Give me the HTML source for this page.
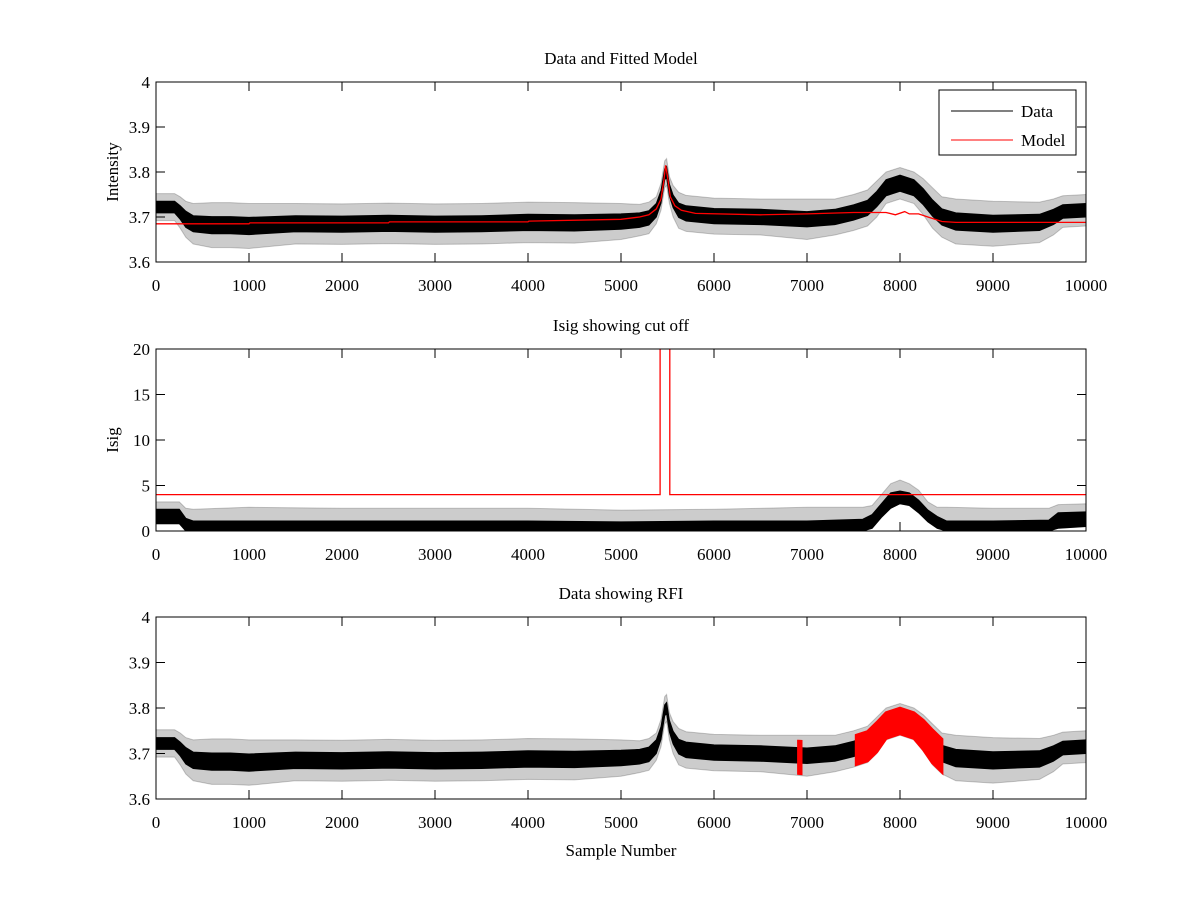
<!DOCTYPE html>
<html><head><meta charset="utf-8">
<style>
html,body{margin:0;padding:0;background:#fff;}
svg{display:block;font-family:"Liberation Serif",serif;}
</style></head>
<body>
<svg id="fig" width="1200" height="900" viewBox="0 0 1200 900" xmlns="http://www.w3.org/2000/svg">
<rect x="0" y="0" width="1200" height="900" fill="#fff"/>
</svg>
<script>
// ---- shared x-axis ----
const xTicks = [0,1000,2000,3000,4000,5000,6000,7000,8000,9000,10000];
// ---- intensity data envelope ----
const dataX    = [0,100,200,260,320,400,600,800,1000,1500,2000,2500,3000,3500,4000,4500,5000,5200,5300,5380,5430,5470,5490,5520,5560,5620,5700,6000,6500,7000,7300,7500,7650,7750,7850,8000,8150,8250,8350,8450,8600,9000,9500,9650,9750,10000];
const dataMid  = [3.722,3.722,3.722,3.71,3.695,3.685,3.682,3.682,3.68,3.685,3.684,3.686,3.684,3.685,3.688,3.687,3.69,3.693,3.698,3.715,3.745,3.795,3.8,3.76,3.735,3.715,3.708,3.702,3.70,3.695,3.70,3.71,3.72,3.74,3.765,3.775,3.765,3.745,3.72,3.70,3.69,3.685,3.688,3.70,3.712,3.715];
const coreHalf = [0.013,0.013,0.013,0.015,0.018,0.018,0.019,0.019,0.019,0.018,0.018,0.018,0.018,0.018,0.018,0.018,0.017,0.016,0.016,0.015,0.014,0.012,0.012,0.013,0.014,0.016,0.017,0.017,0.017,0.017,0.017,0.017,0.017,0.017,0.018,0.018,0.018,0.018,0.018,0.018,0.019,0.019,0.018,0.017,0.015,0.015];
const spikeHalf= [0.03,0.03,0.03,0.035,0.04,0.045,0.05,0.05,0.05,0.045,0.045,0.045,0.045,0.045,0.045,0.045,0.04,0.035,0.035,0.03,0.03,0.03,0.03,0.03,0.035,0.04,0.04,0.04,0.04,0.045,0.04,0.04,0.04,0.04,0.035,0.035,0.035,0.04,0.045,0.045,0.05,0.05,0.045,0.04,0.035,0.035];
// ---- fitted model ----
const modelX = [0,1000,1010,2500,2510,4000,4010,5000,5200,5300,5380,5430,5460,5480,5500,5530,5580,5650,5800,6500,7000,7500,7850,7950,8050,8100,8200,8300,8450,8600,10000];
const modelY = [3.685,3.685,3.687,3.687,3.689,3.689,3.691,3.695,3.70,3.705,3.718,3.74,3.78,3.815,3.79,3.745,3.725,3.715,3.708,3.705,3.707,3.71,3.71,3.705,3.712,3.707,3.707,3.70,3.69,3.688,3.688];
// ---- Isig envelope ----
const isigX     = [0,250,320,400,1000,2000,3000,4000,5000,6000,7000,7600,7700,7800,7900,8000,8100,8200,8300,8400,8500,9000,9600,9700,10000];
const isigLow   = [0.8,0.8,0,0,0,0,0,0,0,0,0,0,0.3,1.5,2.5,3.0,2.8,2.0,1.0,0.3,0,0,0,0.3,0.5];
const isigCore  = [2.4,2.4,1.4,1.1,1.1,1.1,1.1,1.1,1.0,1.1,1.1,1.3,1.8,3.0,4.2,4.4,4.2,3.4,2.3,1.6,1.1,1.1,1.2,2.0,2.1];
const isigSpike = [3.2,3.2,2.5,2.4,2.6,2.5,2.5,2.5,2.3,2.4,2.6,2.6,2.8,4.0,5.2,5.6,5.2,4.5,3.2,2.6,2.6,2.5,2.5,2.9,3.0];
// ---- cut off threshold ----
const cutX = [0,5420,5420,5525,5525,10000];
const cutY = [4,4,25,25,4,4];
// ---- flagged RFI ranges ----
const rfiRanges = [[6910,6935],[7530,8450]];

const NS='http://www.w3.org/2000/svg';
const svg=document.getElementById('fig');
function mk(tag,attrs,parent){const e=document.createElementNS(NS,tag);for(const k in attrs)e.setAttribute(k,attrs[k]);(parent||svg).appendChild(e);return e;}
const L=156,R=1086;
function sx(v){return L+(v)/10000*(R-L);}

function makePanel(top,bottom,ymin,ymax,yTicks,yLabels,title,ylabel,name){
  const g=mk('g',{});
  
  
  const sy=v=>bottom-(v-ymin)/(ymax-ymin)*(bottom-top);
  const clipId='clip-'+name;
  const cp=mk('clipPath',{id:clipId},g);
  mk('rect',{x:L,y:top,width:R-L,height:bottom-top},cp);
  const plot=mk('g',{'clip-path':'url(#'+clipId+')'},g);
  
  
  const fr=mk('rect',{x:L,y:top,width:R-L,height:bottom-top,fill:'none',stroke:'#000','stroke-width':1},g);
  
  
  const tl=9;
  xTicks.forEach(t=>{
    const x=sx(t);
    mk('line',{x1:x,y1:bottom,x2:x,y2:bottom-tl,stroke:'#000'},g);
    mk('line',{x1:x,y1:top,x2:x,y2:top+tl,stroke:'#000'},g);
    const tx=mk('text',{x:x,y:bottom+29,'text-anchor':'middle','font-size':17},g);
    tx.textContent=String(t);
    
    
  });
  yTicks.forEach((t,i)=>{
    const y=sy(t);
    mk('line',{x1:L,y1:y,x2:L+tl,y2:y,stroke:'#000'},g);
    mk('line',{x1:R,y1:y,x2:R-tl,y2:y,stroke:'#000'},g);
    const tx=mk('text',{x:L-6,y:y+6,'text-anchor':'end','font-size':17},g);
    tx.textContent=yLabels[i];
    
    
  });
  const tt=mk('text',{x:(L+R)/2,y:top-18,'text-anchor':'middle','font-size':17},g);
  tt.textContent=title;
  
  
  const yl=mk('text',{x:0,y:0,'text-anchor':'middle','font-size':17,transform:'translate('+(L-38)+','+((top+bottom)/2)+') rotate(-90)'},g);
  yl.textContent=ylabel;
  
  
  return {plot,sy};
}
function band(parent,xs,lo,hi,sy,fill,op,name){
  let d='M'+xs.map((x,i)=>sx(x).toFixed(1)+','+sy(hi[i]).toFixed(1)).join('L');
  for(let i=xs.length-1;i>=0;i--)d+='L'+sx(xs[i]).toFixed(1)+','+sy(lo[i]).toFixed(1);
  const p=mk('path',{d:d+'Z',fill:fill,'fill-opacity':op,stroke:fill,'stroke-opacity':op,'stroke-width':1},parent);
  
  
  return p;
}
function line(parent,xs,ys,sy,color,name){
  const d='M'+xs.map((x,i)=>sx(x).toFixed(1)+','+sy(ys[i]).toFixed(1)).join('L');
  const p=mk('path',{d:d,fill:'none',stroke:color,'stroke-width':1.3},parent);
  
  
}
const lo1=dataMid.map((m,i)=>m-coreHalf[i]), hi1=dataMid.map((m,i)=>m+coreHalf[i]);
const lo2=dataMid.map((m,i)=>m-spikeHalf[i]), hi2=dataMid.map((m,i)=>m+spikeHalf[i]);

// Panel 1
const p1=makePanel(82,262,3.6,4,[3.6,3.7,3.8,3.9,4],['3.6','3.7','3.8','3.9','4'],'Data and Fitted Model','Intensity','top-panel');
band(p1.plot,dataX,lo2,hi2,p1.sy,'#000',0.2,'data-spikes');
band(p1.plot,dataX,lo1,hi1,p1.sy,'#000',1,'data-series');
line(p1.plot,modelX,modelY,p1.sy,'#f00','model-series');
const lg=mk('g',{});


mk('rect',{x:939,y:90,width:137,height:65,fill:'#fff',stroke:'#000'},lg);
mk('line',{x1:951,y1:111,x2:1013,y2:111,stroke:'#000'},lg);
mk('line',{x1:951,y1:140,x2:1013,y2:140,stroke:'#f00'},lg);
const t1=mk('text',{x:1021,y:117,'font-size':17},lg);t1.textContent='Data';


const t2=mk('text',{x:1021,y:146,'font-size':17},lg);t2.textContent='Model';



// Panel 2
const p2=makePanel(349,531,0,20,[0,5,10,15,20],['0','5','10','15','20'],'Isig showing cut off','Isig','middle-panel');
band(p2.plot,isigX,isigLow,isigSpike,p2.sy,'#000',0.2,'isig-spikes');
band(p2.plot,isigX,isigLow,isigCore,p2.sy,'#000',1,'isig-series');
line(p2.plot,cutX,cutY,p2.sy,'#f00','cutoff-line');

// Panel 3
const p3=makePanel(617,799,3.6,4,[3.6,3.7,3.8,3.9,4],['3.6','3.7','3.8','3.9','4'],'Data showing RFI','','bottom-panel');
band(p3.plot,dataX,lo2,hi2,p3.sy,'#000',0.2,'data-spikes');
band(p3.plot,dataX,lo1,hi1,p3.sy,'#000',1,'data-series');
rfiRanges.forEach(rg=>{
  const xs=[],lo=[],hi=[];
  xs.push(rg[0]);
  dataX.forEach(x=>{if(x>rg[0]&&x<rg[1])xs.push(x);});
  xs.push(rg[1]);
  xs.forEach(x=>{
    let i=0;while(i<dataX.length-2&&dataX[i+1]<x)i++;
    const f=(x-dataX[i])/(dataX[i+1]-dataX[i]);
    const m=dataMid[i]+f*(dataMid[i+1]-dataMid[i]);
    const s=spikeHalf[i]+f*(spikeHalf[i+1]-spikeHalf[i]);
    lo.push(m-s*0.9);hi.push(m+s*0.7);
  });
  const p=band(p3.plot,xs,lo,hi,p3.sy,'#f00',1,'rfi-markers');
  p.setAttribute('stroke-width',3);
});
const xl=mk('text',{x:(L+R)/2,y:856,'text-anchor':'middle','font-size':17});
xl.textContent='Sample Number';


</script>
</body></html>
